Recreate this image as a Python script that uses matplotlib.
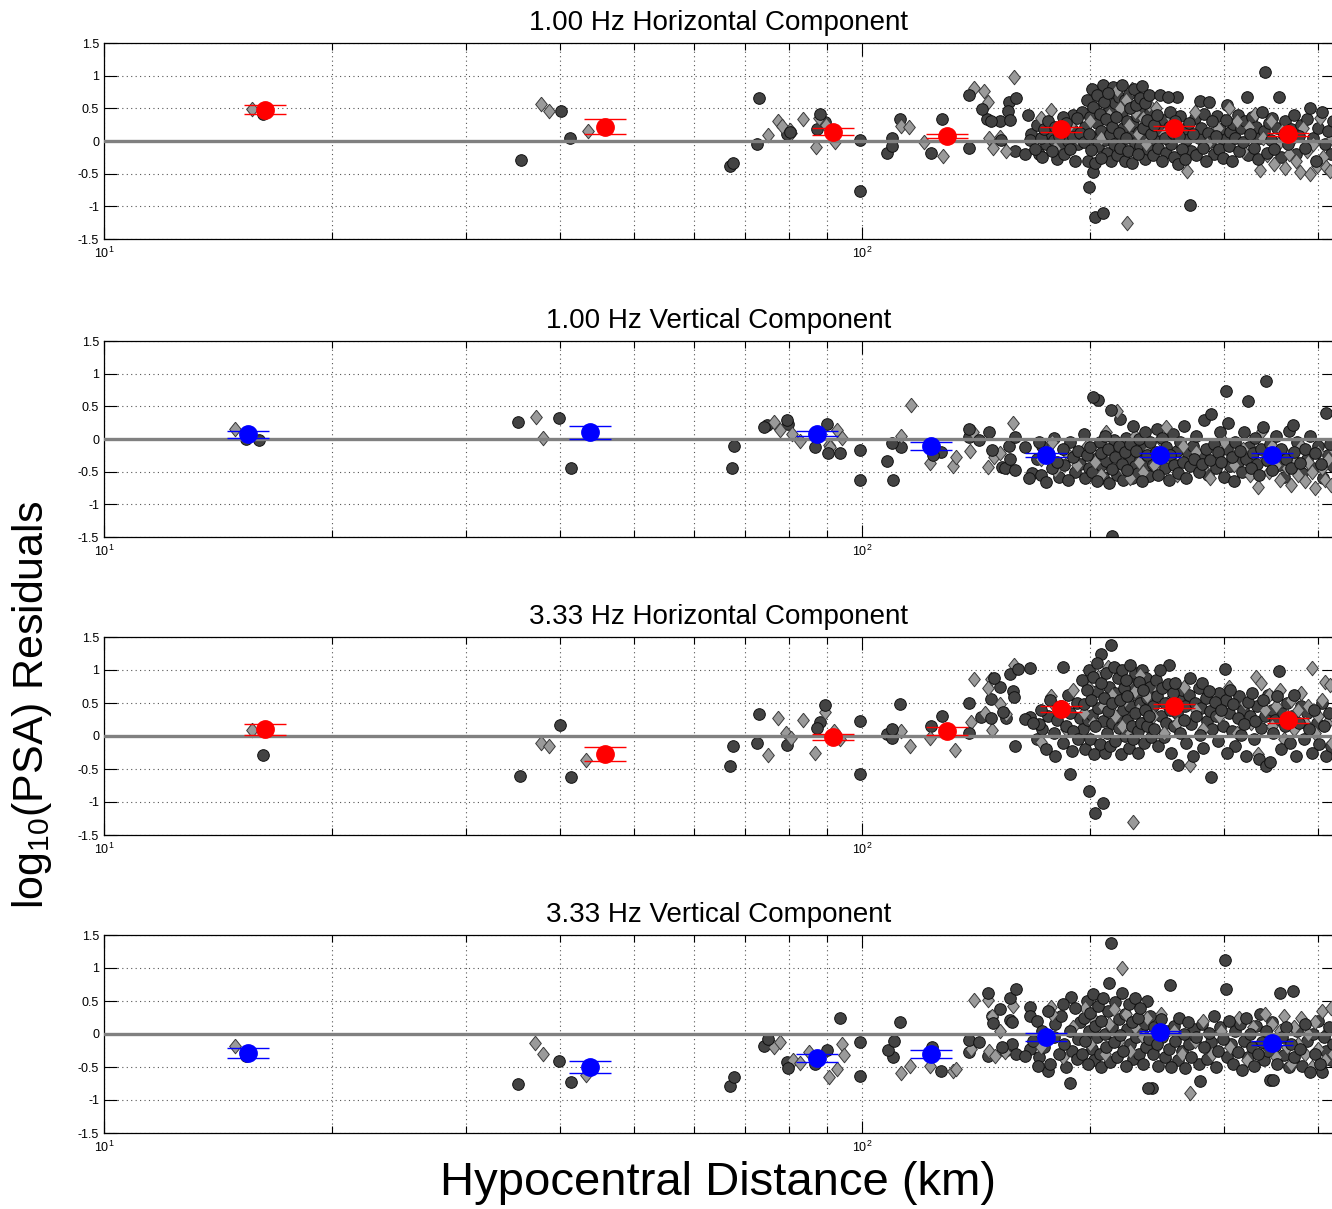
import numpy as np
import matplotlib
matplotlib.use("Agg")
import matplotlib.pyplot as plt
from matplotlib.ticker import FixedLocator, FixedFormatter, LogLocator, NullFormatter

plt.rcParams['font.family'] = ['Liberation Sans', 'DejaVu Sans']
plt.rcParams['mathtext.fontset'] = 'custom'
plt.rcParams['mathtext.rm'] = 'Liberation Sans'
plt.rcParams['mathtext.it'] = 'Liberation Sans'
plt.rcParams['axes.unicode_minus'] = False

# ---------------- 1.00 Hz horizontal ----------------
h1_circles = [
    (16.2, 0.42), (35.5, -0.29), (40.1, 0.46), (41.2, 0.05), (67.0, -0.38), (67.6, -0.34),
    (73.2, 0.66), (72.6, -0.05), (79.6, 0.11), (80.4, 0.14), (87.2, 0.18), (88.0, 0.41),
    (89.4, 0.29), (99.4, 0.02), (99.4, -0.77), (108, -0.18), (109.7, 0.05), (109.7, -0.07),
    (112.2, 0.34), (127.5, 0.34), (123.3, -0.18), (138.5, 0.70), (138.5, -0.11), (143.8, 0.49),
    (146, 0.34), (148.2, 0.31), (152, 0.31), (152.5, 0.02), (156.3, 0.60), (159.5, 0.66),
    (156, 0.46), (157, 0.32), (159, -0.15), (165.8, 0.40), (164, -0.20), (166.6, 0.02),
    (171, -0.20), (184, 0.37), (190, 0.40), (199, -0.70), (203, -1.16), (208, -1.10),
    (202, -0.47), (271, -0.98), (340, 1.06), (261, -0.35),
    (167, 0.10), (169, -0.12), (170, 0.25), (172, 0.05), (173, -0.25), (174, 0.18), (175, -0.05),
    (176, 0.30), (177, 0.12), (178, -0.15), (179, 0.02), (180, 0.22), (181, -0.28), (182, 0.08),
    (183, -0.08), (184, 0.15), (185, -0.20), (186, 0.28), (187, 0.00), (188, -0.12), (189, 0.18),
    (190, 0.06), (191, -0.30), (192, 0.35), (193, -0.04), (194, 0.12),
    (195, 0.45), (196, -0.02), (197, 0.22), (198, 0.62), (198.5, -0.30), (199, 0.10), (200, 0.36),
    (200.5, -0.14), (201, 0.80), (202, 0.52), (202.5, 0.05), (203, -0.33), (204, 0.28), (204.5, 0.70),
    (205, -0.08), (206, 0.42), (206.5, 0.15), (207, -0.26), (208, 0.85), (208.5, 0.60), (209, 0.02),
    (210, 0.33), (210.5, -0.18), (211, 0.74), (212, 0.48), (212.5, 0.10), (213, -0.31), (214, 0.22),
    (214.5, 0.82), (215, -0.05), (216, 0.58), (216.5, 0.36), (217, -0.22), (218, 0.12), (218.5, 0.68),
    (219, -0.10), (220, 0.44), (220.5, 0.86), (221, 0.20), (222, -0.30), (222.5, 0.62), (223, 0.04),
    (224, 0.30), (224.5, -0.16), (225, 0.72), (226, 0.50), (226.5, 0.08), (227, -0.34), (228, 0.25),
    (228.5, 0.80), (229, -0.03), (230, 0.55), (230.5, 0.38), (231, -0.20), (232, 0.14), (232.5, 0.66),
    (233, -0.08), (234, 0.84), (234.5, 0.46), (235, 0.20), (236, -0.28), (236.5, 0.58), (237, 0.02),
    (238, 0.32), (238.5, -0.12), (239, 0.70), (240, 0.44), (240.5, 0.10),
    (242, -0.22), (243, 0.25), (244, 0.02), (245, 0.40), (246, -0.10), (247, 0.70), (248, 0.15),
    (249, -0.30), (250, 0.32), (251, 0.05), (252, -0.18), (253, 0.67), (254, 0.22), (255, 0.45),
    (256, -0.05), (257, 0.12), (258, -0.25), (259, 0.30), (260, 0.67), (262, 0.08), (263, 0.38),
    (264, -0.12), (266, 0.18), (267, -0.28), (268, 0.02), (270, 0.28), (272, -0.15), (273, 0.10),
    (275, 0.35), (276, -0.22), (278, 0.05), (279, 0.61), (280, 0.20), (282, -0.10), (283, 0.42),
    (284, -0.30), (286, 0.12), (287, 0.60), (288, -0.02), (290, 0.30), (291, -0.20), (293, 0.08),
    (294, 0.38), (296, -0.12), (297, 0.18), (299, -0.26), (300, 0.02), (302, 0.32), (303, 0.55),
    (305, -0.08), (306, 0.14), (308, -0.30), (309, 0.26), (311, 0.04), (313, 0.40), (314, -0.16),
    (316, 0.20), (318, -0.02), (320, 0.30), (322, 0.67), (323, -0.22), (325, 0.10), (327, 0.36),
    (329, -0.10), (331, 0.22), (333, -0.28), (335, 0.05), (337, 0.44), (339, 0.15), (342, -0.18),
    (344, 0.28), (346, 0.02), (348, 0.35), (350, -0.12), (353, 0.20), (355, 0.67), (357, -0.25),
    (360, 0.10), (362, 0.30), (365, -0.05), (368, 0.18), (371, 0.40), (374, -0.20), (377, 0.08),
    (380, 0.25), (384, -0.10), (387, 0.33), (390, 0.50), (393, 0.05), (397, -0.30), (400, 0.20),
    (404, 0.44), (408, -0.05), (412, 0.15), (416, -0.20), (418, 0.30),
]
h1_diamonds = [
    (15.7, 0.49), (37.7, 0.57), (38.7, 0.46), (43.5, 0.15), (75.1, 0.09), (77.4, 0.31),
    (78.5, 0.23), (80.4, 0.17), (80.6, 0.13), (83.7, 0.34), (87.7, 0.35), (89.7, 0.25),
    (87.0, -0.09), (92.0, -0.02), (112.5, 0.23), (115.3, 0.21), (120.8, -0.02), (127.8, -0.23),
    (140.4, 0.81), (144.8, 0.76), (146.6, 0.60), (147, 0.05), (148.7, -0.11), (152, 0.06),
    (155, -0.16), (158.5, 0.98), (177.5, 0.47),
    (172, 0.35), (180, -0.10), (188, 0.25), (192, 0.05),
    (200, 0.30), (204, 0.55), (207, 0.05), (210, 0.68), (212, 0.40), (215, 0.15), (217, 0.78),
    (219, 0.50), (221, -0.10), (223, 0.62), (225, 0.25), (227, 0.80), (229, 0.45), (231, 0.10),
    (233, 0.65), (235, 0.35), (237, -0.05), (239, 0.55), (224, -1.25),
    (244, 0.50), (250, 0.10), (256, 0.35), (266, -0.25), (268.5, -0.46), (275, 0.45), (285, -0.05),
    (295, 0.20), (305, 0.50), (312, 0.30), (318, -0.15), (324, 0.22), (330, 0.42), (335, -0.44),
    (338, 0.05), (342, -0.22), (346, 0.30), (350, -0.35), (354, -0.05), (358, 0.15), (362, -0.42),
    (366, -0.20), (370, 0.05), (374, -0.30), (378, -0.47), (382, 0.20), (386, -0.15), (390, -0.50),
    (394, -0.05), (398, -0.38), (402, 0.35), (406, -0.25), (410, -0.40), (414, -0.46), (417, 0.05),
]
h1_bin_dist = [16.3, 45.8, 91.6, 129.4, 183, 258, 365]
h1_bin_mean = [0.48, 0.22, 0.14, 0.07, 0.18, 0.20, 0.10]
h1_bin_err = [0.065, 0.115, 0.055, 0.03, 0.04, 0.03, 0.03]

# ---------------- 1.00 Hz vertical ----------------
v1_circles = [
    (15.4, 0.0), (16.0, -0.02), (35.2, 0.26), (39.8, 0.32), (41.3, -0.44), (67.4, -0.44),
    (67.8, -0.11), (74.2, 0.18), (75.0, 0.21), (79.6, 0.29), (79.8, 0.23), (86.6, -0.12),
    (89.8, 0.23), (90.1, -0.21), (93.5, -0.21), (99.4, -0.17), (99.4, -0.63), (108, -0.34),
    (110, -0.63), (109.5, -0.06), (112.5, -0.12), (124, -0.24), (127, -0.20), (138.5, 0.15),
    (138.5, 0.03), (142.7, -0.02), (147, 0.11), (148.5, -0.17), (153, -0.43), (154.5, -0.45),
    (156.5, -0.11), (157, -0.31), (159, 0.03), (159, -0.47), (164, -0.12), (166, -0.60),
    (167.5, -0.52), (171, -0.05),
    (170, -0.30), (172, -0.55), (173, -0.10), (175, -0.66), (176, -0.22), (178, -0.45), (179, 0.02),
    (181, -0.35), (182, -0.58), (184, -0.15), (185, -0.40), (187, -0.62), (188, -0.05), (190, -0.28),
    (191, -0.50), (193, -0.18), (194, -0.38), (196, 0.08), (197, -0.60), (198, -0.25), (199, -0.44),
    (200, -0.12), (201, -0.50), (202, 0.64), (203, -0.30), (204, -0.65), (205, 0.60), (206, -0.05),
    (206.5, -0.40), (207, -0.22), (208, -0.58), (209, 0.05), (210, -0.34), (211, -0.15), (212, -0.68),
    (213, 0.44), (213.5, -1.48), (214, -0.46), (215, -0.02), (216, -0.28), (217, -0.55), (218, -0.10),
    (219, 0.30), (220, -0.38), (221, -0.62), (222, -0.20), (223, 0.02), (224, -0.48), (225, -0.30),
    (226, -0.08), (227, -0.60), (228, 0.20), (229, -0.42), (230, -0.18), (231, -0.52), (232, 0.00),
    (233, -0.32), (234, -0.64), (235, -0.12), (236, 0.10), (237, -0.45), (238, -0.25), (239, -0.56),
    (240, -0.05),
    (242, -0.38), (244, -0.20), (245, 0.15), (246, -0.55), (248, -0.30), (249, 0.02), (251, -0.45),
    (252, -0.12), (254, -0.62), (255, -0.25), (257, 0.08), (258, -0.40), (260, -0.18), (261, -0.52),
    (263, -0.05), (265, -0.35), (266, 0.20), (268, -0.60), (269, -0.22), (271, -0.42), (273, -0.10),
    (274, -0.30), (276, 0.05), (278, -0.50), (279, -0.25), (281, -0.38), (283, 0.29), (284, -0.15),
    (286, -0.55), (288, -0.32), (289, 0.38), (291, -0.08), (293, -0.45), (295, -0.20), (297, 0.11),
    (298, -0.35), (300, -0.58), (302, 0.74), (303, -0.15), (304, 0.24), (306, -0.42), (308, -0.28),
    (310, -0.64), (311, -0.05), (313, -0.35), (315, -0.18), (317, -0.50), (319, 0.10), (321, -0.30),
    (323, 0.58), (324, -0.12), (326, -0.45), (328, -0.22), (330, 0.02), (332, -0.38), (334, -0.55),
    (336, -0.15), (338, 0.18), (341, 0.89), (342, -0.32), (345, -0.08), (347, -0.48), (350, -0.25),
    (352, 0.05), (355, -0.40), (357, -0.15), (360, -0.58), (363, -0.30), (366, 0.12), (368, -0.45),
    (370, 0.21), (372, -0.20), (375, -0.05), (378, -0.36), (381, -0.52), (384, -0.15), (387, -0.30),
    (390, 0.05), (393, -0.45), (396, -0.22), (400, -0.10), (403, -0.38), (406, -0.60), (410, 0.40),
    (412, -0.25), (415, -0.08), (418, -0.42),
]
v1_diamonds = [
    (14.9, 0.15), (37.2, 0.34), (37.9, 0.02), (76.5, 0.26), (78, 0.14), (80.9, 0.08),
    (82.8, -0.03), (90.4, -0.09), (90.7, -0.12), (92.8, 0.14), (94.2, 0.02), (112.5, 0.05),
    (116, 0.52), (122.9, -0.37), (131.7, -0.41), (133, -0.28), (139, -0.18), (140, 0.11),
    (146.5, -0.43), (149.5, -0.28), (152, -0.21), (155.5, -0.43), (158, 0.25), (178, -0.05),
    (172, -0.30), (180, -0.48), (186, -0.20), (192, -0.40), (198, -0.10), (203, -0.35), (207, -0.55),
    (210, 0.10), (214, -0.25), (217, 0.43), (220, -0.45), (223, -0.15), (226, -0.60), (229, 0.05),
    (232, -0.35), (235, -0.50), (238, -0.20), (243, -0.40), (247, 0.00), (252, 0.18), (256, -0.30),
    (260, -0.55), (265, -0.10), (270, -0.35), (276, -0.20), (282, -0.45), (288, -0.60), (295, -0.25),
    (300, -0.05), (310, -0.40), (318, -0.15), (325, -0.55), (333, -0.73), (337, 0.12), (340, -0.30),
    (344, -0.50), (348, -0.10), (352, -0.40), (356, -0.62), (360, -0.20), (364, -0.45), (368, -0.70),
    (372, -0.30), (376, -0.55), (380, -0.10), (384, -0.65), (388, -0.35), (392, -0.50), (396, -0.75),
    (400, -0.20), (404, -0.45), (408, -0.62), (412, -0.30), (416, -0.70), (418, -0.15),
]
v1_bin_dist = [15.5, 43.8, 87.2, 123.3, 175, 247, 348]
v1_bin_mean = [0.07, 0.10, 0.08, -0.11, -0.24, -0.24, -0.24]
v1_bin_err = [0.06, 0.10, 0.04, 0.065, 0.03, 0.03, 0.03]

# ---------------- 3.33 Hz horizontal ----------------
h3_circles = [
    (16.2, -0.29), (35.4, -0.60), (39.9, 0.17), (41.3, -0.62), (67.0, -0.46), (67.6, -0.15),
    (73.2, 0.33), (72.6, -0.11), (79.6, -0.14), (87.2, 0.12), (88.0, 0.21), (89.4, 0.47),
    (99.4, 0.23), (99.4, -0.58), (108, 0.03), (109.7, 0.10), (109.7, -0.03), (112.2, 0.48),
    (123.3, 0.15), (127.5, 0.30), (138.5, 0.50), (138.5, 0.05), (143.5, 0.29), (147.8, 0.27),
    (148.2, 0.56), (149.5, 0.88), (152, 0.74), (153.5, 0.36), (155, 0.27), (156.8, 0.94),
    (158.3, 0.68), (158.5, 0.59), (159, -0.15), (160.6, 1.02), (166.8, 1.03), (164, 0.26),
    (166.6, 0.29), (171, 0.18), (184, 1.05), (188, -0.58), (199, -0.83), (203, -1.17), (208, -1.02),
    (168, 0.20), (170, -0.05), (172, 0.40), (173, 0.10), (175, -0.20), (176, 0.30), (177, 0.55),
    (179, 0.05), (180, -0.30), (181, 0.25), (183, 0.45), (184, -0.10), (186, 0.15), (187, 0.62),
    (188, 0.35), (189, -0.22), (190, 0.08), (192, 0.50), (193, -0.05), (194, 0.28),
    (195, 0.85), (195.5, 0.10), (196, 0.48), (197, -0.20), (198, 0.70), (198.5, 0.25), (199, 1.00),
    (200, -0.05), (200.5, 0.55), (201, 0.32), (202, 0.90), (202.5, -0.28), (203, 0.15), (204, 0.68),
    (204.5, 1.10), (205, 0.42), (206, -0.12), (206.5, 1.24), (207, 0.80), (208, 0.22), (208.5, 0.58),
    (209, -0.25), (210, 0.95), (210.5, 0.05), (211, 0.38), (212, 0.75), (212.5, -0.15), (213, 1.38),
    (213.5, 0.50), (214, 0.20), (215, 1.05), (215.5, 0.65), (216, -0.08), (217, 0.30), (217.5, 0.88),
    (218, 0.12), (219, 0.55), (219.5, -0.28), (220, 1.00), (221, 0.40), (221.5, 0.72), (222, 0.00),
    (223, 0.85), (223.5, 0.25), (224, 0.60), (225, -0.18), (225.5, 1.08), (226, 0.45), (227, 0.15),
    (227.5, 0.78), (228, -0.05), (229, 0.95), (229.5, 0.35), (230, 0.62), (231, 0.08), (231.5, -0.25),
    (232, 0.82), (233, 0.50), (233.5, 0.20), (234, 1.00), (235, 0.70), (235.5, -0.10), (236, 0.40),
    (237, 0.88), (237.5, 0.15), (238, 0.58), (239, 0.30), (240, 0.75), (240.5, -0.02),
    (242, 0.45), (243, 0.10), (244, 0.85), (245, 0.60), (246, -0.15), (247, 1.00), (248, 0.30),
    (249, 0.72), (250, -0.02), (251, 0.50), (252, 0.20), (253, 0.79), (254, 1.08), (255, 0.40),
    (256, -0.25), (257, 0.65), (258, 0.15), (259, 0.80), (260, 0.35), (261, -0.44), (262, 0.55),
    (263, 0.05), (264, 0.70), (266, 0.25), (267, 0.45), (268, -0.10), (270, 0.62), (271, 0.88),
    (272, 0.18), (273, -0.30), (275, 0.50), (276, 0.30), (278, 0.72), (279, 0.02), (280, 0.42),
    (281, 0.80), (282, -0.18), (284, 0.58), (285, 0.22), (287, 0.68), (288, 0.38), (289, -0.62),
    (290, 0.10), (292, 0.52), (293, 0.30), (295, -0.08), (296, 0.65), (298, 0.40), (299, 0.15),
    (301, 1.02), (302, 0.55), (303, -0.25), (305, 0.35), (306, 0.70), (308, 0.08), (309, 0.48),
    (311, -0.15), (313, 0.28), (314, 0.60), (316, 0.02), (318, 0.40), (319, 0.18), (321, -0.30),
    (323, 0.52), (325, 0.30), (327, 0.65), (329, -0.05), (330, 0.22), (332, 0.45), (334, -0.35),
    (336, 0.12), (338, 0.55), (340, 0.30), (341, -0.45), (343, 0.62), (345, -0.40), (347, 0.40),
    (349, 0.05), (351, 0.25), (353, 0.60), (355, 0.99), (357, -0.20), (359, 0.35), (362, 0.15),
    (364, 0.50), (367, -0.10), (369, 0.30), (372, 0.62), (374, -0.30), (377, 0.20), (380, 0.45),
    (383, -0.05), (386, 0.35), (389, 0.10), (392, -0.25), (395, 0.40), (398, 0.20), (401, -0.12),
    (404, 0.50), (407, 0.15), (410, -0.30), (413, 0.35), (416, -0.15),
]
h3_diamonds = [
    (15.7, 0.09), (37.7, -0.10), (38.7, -0.15), (43.3, -0.36), (75.1, -0.29), (77.4, 0.27),
    (79.5, 0.05), (80.6, -0.03), (83.5, 0.24), (86.8, -0.26), (89.5, 0.36), (91.8, 0.08),
    (93.6, -0.05), (112.5, 0.08), (115.7, -0.15), (122.9, -0.03), (132.5, -0.21), (139.3, 0.21),
    (140.4, 0.86), (145.5, 0.35), (147.8, 0.86), (146.5, 0.73), (148.5, 0.09), (152, 0.48),
    (155, 0.33), (158.5, 1.08), (172, -0.09), (177.5, 0.60),
    (180, 0.45), (186, 0.10), (190, 0.70), (196, 0.35), (199, 0.72), (202, 0.20), (205, 0.90),
    (208, 0.45), (211, 1.05), (214, 0.62), (216, 0.30), (218, 0.98), (220, 0.15), (222, 0.55),
    (224, 0.80), (226, 0.05), (228, -1.30), (229, 0.68), (231, 0.40), (233, 0.92), (236, 0.22),
    (238, 0.60), (242, 0.30), (246, 0.70), (250, 0.05), (255, 0.55), (260, 0.20), (266, 0.75),
    (271, -0.44), (276, 0.40), (282, 0.10), (288, 0.60), (296, 0.30), (305, 0.75), (312, 0.05),
    (320, 0.50), (326, 0.20), (331, 0.90), (333, -0.27), (336, 0.80), (340, 0.40), (344, 0.62),
    (348, 0.15), (352, 0.45), (356, 0.70), (360, -0.05), (364, 0.30), (368, 0.55), (372, 0.10),
    (376, 0.40), (380, 0.65), (384, 0.20), (388, 0.45), (392, 1.03), (396, 0.05), (400, 0.30),
    (404, 0.55), (408, 0.82), (411, 0.20), (414, 0.77), (417, -0.10),
]
h3_bin_dist = [16.3, 45.8, 91.6, 129.4, 183, 258, 365]
h3_bin_mean = [0.10, -0.27, -0.02, 0.08, 0.41, 0.46, 0.24]
h3_bin_err = [0.08, 0.11, 0.045, 0.06, 0.05, 0.03, 0.04]

# ---------------- 3.33 Hz vertical ----------------
v3_circles = [
    (15.4, -0.33), (35.2, -0.76), (39.8, -0.41), (41.3, -0.73), (67.0, -0.79), (67.8, -0.65),
    (74.2, -0.18), (75.2, -0.08), (79.6, -0.42), (79.9, -0.52), (86.6, -0.45), (89.8, -0.24),
    (93.5, 0.24), (99.4, -0.12), (99.4, -0.64), (108.3, -0.24), (109.9, -0.35), (110.2, -0.11),
    (112.2, 0.18), (123.7, -0.20), (127.1, -0.56), (138.5, -0.09), (138.5, -0.27), (142.7, -0.12),
    (146.5, -0.33), (146.5, 0.62), (148.5, 0.27), (148.8, 0.17), (152, 0.38), (153, -0.20),
    (154.5, -0.26), (157, 0.55), (157, 0.21), (157.5, 0.18), (157.5, -0.15), (159.5, 0.68),
    (159.5, -0.30), (164, -0.33), (166.6, 0.41), (166.6, 0.27), (166.5, -0.22), (170.5, -0.48),
    (176, -0.56), (184, 0.45), (188.5, 0.56), (188, -0.74),
    (168, -0.10), (170, 0.20), (171, -0.35), (173, 0.05), (174, -0.20), (176, 0.35), (177, -0.45),
    (179, -0.05), (180, 0.15), (182, -0.30), (183, 0.28), (185, -0.15), (186, -0.50), (188, 0.05),
    (189, -0.25), (191, 0.40), (192, -0.38), (193, -0.08), (194, 0.18),
    (195, -0.30), (196, 0.25), (197, -0.10), (198, 0.50), (198.5, -0.45), (199, 0.05), (200, 0.32),
    (201, -0.22), (202, 0.60), (202.5, -0.40), (203, 0.12), (204, -0.05), (205, 0.42), (206, -0.30),
    (206.5, 0.20), (207, -0.50), (208, 0.55), (209, 0.00), (210, -0.20), (211, 0.35), (212, 0.77),
    (212.5, -0.42), (213, 1.38), (214, 0.10), (215, -0.12), (216, 0.48), (217, -0.35), (218, 0.22),
    (219, -0.02), (220, 0.62), (221, -0.25), (222, 0.30), (223, -0.48), (224, 0.08), (225, 0.45),
    (226, -0.15), (227, 0.18), (228, -0.38), (229, 0.55), (230, -0.05), (231, 0.25), (232, -0.30),
    (233, 0.40), (234, 0.02), (235, -0.45), (236, 0.15), (237, -0.20), (238, 0.50), (239, -0.08),
    (240, 0.28), (238.5, -0.82),
    (241, -0.82), (242, -0.30), (243, 0.10), (245, -0.15), (246, -0.48), (248, 0.22), (249, -0.05),
    (251, -0.35), (252, 0.05), (254, -0.22), (255, 0.74), (256, -0.50), (258, 0.12), (259, -0.10),
    (261, -0.40), (262, 0.25), (264, -0.25), (266, 0.00), (267, -0.52), (269, 0.18), (270, -0.15),
    (272, -0.35), (274, 0.08), (276, -0.05), (278, -0.45), (279, -0.71), (281, 0.15), (283, -0.20),
    (285, -0.38), (287, 0.02), (289, -0.12), (291, 0.28), (293, -0.50), (295, -0.25), (297, 0.10),
    (299, -0.08), (301, 1.12), (302, 0.68), (303, -0.35), (305, 0.20), (307, -0.15), (309, -0.45),
    (311, 0.05), (313, -0.28), (315, 0.15), (317, -0.55), (319, -0.10), (321, 0.25), (323, -0.35),
    (325, 0.00), (327, -0.20), (329, -0.48), (331, 0.12), (333, -0.30), (335, 0.30), (337, -0.12),
    (339, -0.40), (341, 0.05), (343, -0.25), (345, -0.70), (347, 0.18), (349, -0.70), (351, -0.18),
    (353, -0.45), (356, 0.62), (358, -0.05), (360, -0.32), (363, 0.10), (366, -0.50), (368, -0.15),
    (370, 0.65), (372, -0.35), (375, 0.05), (378, -0.22), (381, -0.48), (384, 0.15), (387, -0.10),
    (390, -0.58), (393, 0.00), (396, -0.30), (399, 0.20), (402, -0.45), (404, -0.58), (407, -0.05),
    (410, -0.25), (413, 0.10), (416, -0.40), (418, -0.15),
]
v3_diamonds = [
    (14.9, -0.18), (37.0, -0.14), (38.0, -0.30), (43.2, -0.62), (76.5, -0.20), (78, -0.12),
    (81, -0.39), (82.8, -0.44), (85.2, -0.27), (90.4, -0.65), (92.8, -0.53), (94, -0.15),
    (94.8, -0.32), (112.5, -0.59), (115.7, -0.48), (122.9, -0.48), (132, -0.56), (133, -0.53),
    (139.3, -0.23), (140.4, 0.52), (146.8, 0.52), (147, -0.25), (148.5, 0.28), (150, -0.33),
    (152, 0.05), (154.5, -0.27), (158.3, 0.42), (177.5, 0.41),
    (172, -0.20), (178, 0.30), (184, -0.35), (190, 0.10), (197, 0.40), (200, -0.15), (203, 0.20),
    (206, 0.50), (209, -0.30), (212, 0.15), (215, 0.38), (218, -0.10), (220, 1.00), (223, 0.30),
    (226, -0.25), (229, 0.10), (232, 0.45), (235, -0.05), (238, 0.25), (244, -0.20), (248, 0.30),
    (252, -0.40), (258, 0.05), (264, -0.30), (271, -0.90), (275, -0.10), (282, 0.20), (290, -0.30),
    (298, 0.05), (306, -0.20), (314, 0.25), (322, -0.40), (328, 0.10), (334, -0.25), (340, 0.30),
    (344, -0.10), (348, 0.15), (352, -0.35), (356, 0.05), (360, 0.28), (364, -0.20), (368, -0.45),
    (372, 0.10), (376, -0.15), (380, 0.25), (384, -0.30), (388, 0.00), (392, -0.50), (396, 0.18),
    (400, -0.22), (404, 0.35), (408, -0.40), (412, 0.05), (416, 0.40), (418, -0.30),
]
v3_bin_dist = [15.5, 43.8, 87.2, 123.3, 175, 247, 348]
v3_bin_mean = [-0.29, -0.50, -0.36, -0.30, -0.04, 0.03, -0.14]
v3_bin_err = [0.08, 0.085, 0.06, 0.06, 0.06, 0.02, 0.03]

titles = ['1.00 Hz Horizontal Component', '1.00 Hz Vertical Component',
          '3.33 Hz Horizontal Component', '3.33 Hz Vertical Component']
y_ticks = [-1.5, -1, -0.5, 0, 0.5, 1, 1.5]
y_tick_labels = ['-1.5', '-1', '-0.5', '0', '0.5', '1', '1.5']

# diamond a bit wider than matplotlib's 'd'
diamond = [(0, 1), (0.8, 0), (0, -1), (-0.8, 0), (0, 1)]


def draw_panel(ax, title, circles, diamonds, bin_d, bin_m, bin_e, color):
    c = np.array(circles)
    d = np.array(diamonds)
    circ_style = dict(s=70, marker='o', facecolor='#434343', edgecolor='#111111', linewidths=0.7)
    # half of the circles go under the diamonds, half on top, so the two sets look mixed
    ax.scatter(c[::2, 0], c[::2, 1], zorder=2, **circ_style)
    ax.scatter(d[:, 0], d[:, 1], s=110, marker=diamond, facecolor='#9a9a9a',
               edgecolor='#3a3a3a', linewidths=0.7, zorder=2.1)
    ax.scatter(c[1::2, 0], c[1::2, 1], zorder=2.2, **circ_style)
    ax.axhline(0, color='#808080', lw=2.4, zorder=3)
    ax.errorbar(bin_d, bin_m, yerr=bin_e, fmt='o', color=color, ms=12.5,
                mfc=color, mec=color, elinewidth=1.0, capsize=15, capthick=1.0, zorder=4)

    ax.set_xscale('log')
    ax.set_xlim(10, 419.5)
    ax.set_ylim(-1.5, 1.5)
    ax.xaxis.set_major_locator(LogLocator(base=10))
    ax.xaxis.set_minor_locator(LogLocator(base=10, subs=np.arange(2, 10)))
    ax.xaxis.set_minor_formatter(NullFormatter())
    ax.yaxis.set_major_locator(FixedLocator(y_ticks))
    ax.yaxis.set_major_formatter(FixedFormatter(y_tick_labels))

    ax.set_axisbelow(True)
    ax.grid(True, which='major', axis='both', linestyle=(0, (1, 3)), color='#555555', lw=0.8)
    ax.grid(True, which='minor', axis='x', linestyle=(0, (1, 3)), color='#555555', lw=0.8)
    ax.tick_params(which='both', direction='in', top=True, right=True, labelsize=9,
                   colors='black', width=0.8)
    ax.tick_params(which='major', length=9)
    ax.tick_params(which='minor', length=5)
    ax.tick_params(axis='x', pad=5)
    for sp in ax.spines.values():
        sp.set_linewidth(0.9)
    ax.set_title(title, fontsize=20, pad=9)


fig = plt.figure(figsize=(13.32, 12.09), dpi=100)

W, H = 1332.0, 1209.0
panel_px = [(43, 239), (341, 537), (637, 835), (935, 1133)]
left_px, right_px = 104, 1334

panels = [
    (h1_circles, h1_diamonds, h1_bin_dist, h1_bin_mean, h1_bin_err, 'red'),
    (v1_circles, v1_diamonds, v1_bin_dist, v1_bin_mean, v1_bin_err, 'blue'),
    (h3_circles, h3_diamonds, h3_bin_dist, h3_bin_mean, h3_bin_err, 'red'),
    (v3_circles, v3_diamonds, v3_bin_dist, v3_bin_mean, v3_bin_err, 'blue'),
]

for (top, bot), title, p in zip(panel_px, titles, panels):
    ax = fig.add_axes([left_px / W, 1 - bot / H, (right_px - left_px) / W, (bot - top) / H])
    draw_panel(ax, title, *p)

fig.text(718 / W, 1 - 1183 / H, 'Hypocentral Distance (km)', ha='center', va='center', fontsize=34)
fig.text(32 / W, 1 - 705 / H, 'log$_{10}$(PSA) Residuals', ha='center', va='center',
         rotation=90, fontsize=31)

fig.savefig('out.png', dpi=100)
